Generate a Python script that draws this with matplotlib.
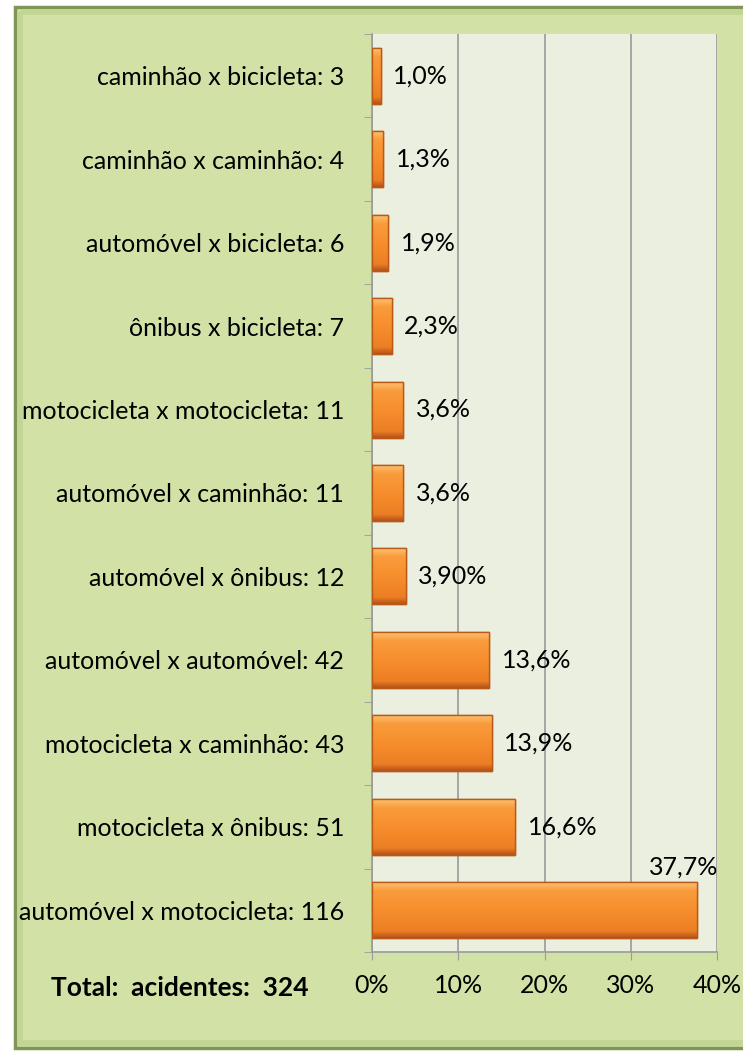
import matplotlib.pyplot as plt
import numpy as np
from matplotlib.patches import Rectangle
from matplotlib.colors import LinearSegmentedColormap

plt.rcParams['font.family'] = ['Lato', 'DejaVu Sans']

# dados (de baixo para cima, como no Excel)
categorias = ['automóvel x motocicleta: 116', 'motocicleta x ônibus: 51',
              'motocicleta x caminhão: 43', 'automóvel x automóvel: 42',
              'automóvel x ônibus: 12', 'automóvel x caminhão: 11',
              'motocicleta x motocicleta: 11', 'ônibus x bicicleta: 7',
              'automóvel x bicicleta: 6', 'caminhão x caminhão: 4',
              'caminhão x bicicleta: 3']
percentuais = [37.7, 16.6, 13.9, 13.6, 3.9, 3.6, 3.6, 2.3, 1.9, 1.3, 1.0]
rotulos = ['37,7%', '16,6%', '13,9%', '13,6%', '3,90%', '3,6%', '3,6%',
           '2,3%', '1,9%', '1,3%', '1,0%']
ticks_x = [0, 10, 20, 30, 40]
total_texto = 'Total:  acidentes:  324'

FS = 18
fig = plt.figure(figsize=(7.43, 10.51), dpi=100)
fig.patch.set_facecolor('white')
W, H = 743, 1051

# painel verde de fundo (eixo auxiliar atrás de tudo)
bg = fig.add_axes([0, 0, 1, 1], zorder=-10)
bg.set_xlim(0, W)
bg.set_ylim(H, 0)
bg.axis('off')
bg.add_patch(Rectangle((15, 7), 760, 1041, facecolor='#D2E2A6',
                       edgecolor='#7F9656', linewidth=2.5))
bg.add_patch(Rectangle((20, 12), 760, 1031, facecolor='none',
                       edgecolor='#C2D592', linewidth=4))

ax = fig.add_axes([372 / W, 1 - 952 / H, (717 - 372) / W, (952 - 34) / H])
ax.set_facecolor('#EBEFDF')

y = np.arange(len(categorias))
barras = ax.barh(y, percentuais, height=0.67, color='#F78D2C',
                 edgecolor='#B95A18', linewidth=1.0, zorder=3)

# gradiente nas barras (efeito chanfrado)
cmap = LinearSegmentedColormap.from_list(
    'lar', [(0, '#B5531A'), (0.12, '#EC7E24'), (0.5, '#F78E2D'),
            (0.85, '#F99C3C'), (1, '#FBC072')])
grad = np.linspace(0, 1, 100).reshape(-1, 1)
for b in barras:
    x0, y0 = b.get_x(), b.get_y()
    im = ax.imshow(grad, cmap=cmap, aspect='auto', origin='lower',
                   extent=(x0, x0 + b.get_width(), y0, y0 + b.get_height()), zorder=3)
    im.set_clip_path(b)
    ax.add_patch(Rectangle((x0, y0), b.get_width(), b.get_height(), facecolor='none',
                           edgecolor='#B95A18', linewidth=1.0, zorder=4))

# rótulos de valor
for i, (v, r) in enumerate(zip(percentuais, rotulos)):
    if v > 30:
        ax.annotate(r, (v, i + 0.335), xytext=(-10, 3), textcoords='offset points',
                    ha='center', va='bottom', fontsize=FS)
    else:
        ax.annotate(r, (v, i), xytext=(9, 0), textcoords='offset points',
                    ha='left', va='center', fontsize=FS)

ax.set_xlim(0, 40)
ax.set_ylim(-0.5, len(categorias) - 0.5)
ax.set_xticks(ticks_x)
ax.set_xticklabels([f'{t}%' for t in ticks_x], fontsize=FS)
ax.set_yticks(y)
ax.set_yticklabels(categorias, fontsize=FS)
ax.set_yticks(np.arange(-0.5, len(categorias), 1), minor=True)
ax.tick_params(axis='y', which='major', length=0, pad=20)
ax.tick_params(axis='y', which='minor', length=6, color='#9A9A9A', direction='out')
ax.tick_params(axis='x', which='major', length=6, color='#9A9A9A', pad=10)
ax.grid(axis='x', color='#9A9A9A', linewidth=1.2, zorder=1)
ax.set_axisbelow(True)
for s in ['top', 'right']:
    ax.spines[s].set_visible(False)
for s in ['left', 'bottom']:
    ax.spines[s].set_color('#9A9A9A')
    ax.spines[s].set_linewidth(1.2)

fig.text(180 / W, 1 - 988 / H, total_texto, ha='center', va='center',
         fontsize=FS + 1, fontweight='bold')

fig.savefig('out.png', dpi=100)
